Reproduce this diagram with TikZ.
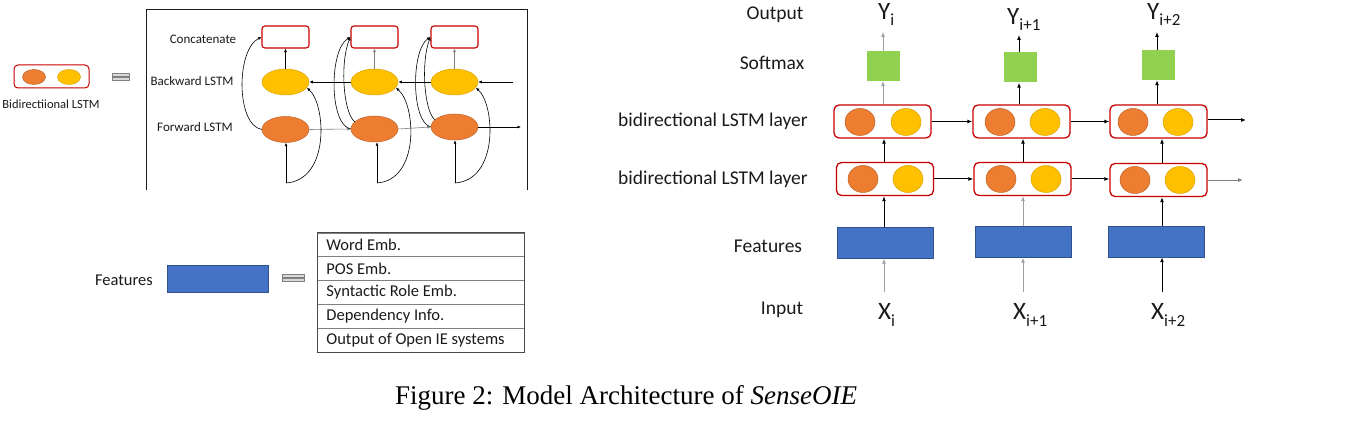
\documentclass[tikz,border=0pt]{standalone}
\usepackage{fontspec}
\setmainfont{Liberation Serif}
\newfontfamily\calib{Carlito}
\newcommand\subfnt{\calib\fontsize{17}{18}\selectfont}
\usetikzlibrary{arrows.meta,shapes.geometric}
\definecolor{orC}{HTML}{ED7D31}
\definecolor{orD}{HTML}{C0622A}
\definecolor{yeC}{HTML}{FFC000}
\definecolor{yeD}{HTML}{D9A300}
\definecolor{grC}{HTML}{92D050}
\definecolor{blC}{HTML}{4472C4}
\definecolor{blD}{HTML}{2F528F}
\definecolor{rdC}{HTML}{C80000}
\definecolor{txC}{HTML}{1A1A1A}
\definecolor{lnG}{HTML}{A0A0A0}
\tikzset{
 lab/.style={font=\calib\fontsize{19.5}{23}\selectfont, text=txC, inner sep=0pt},
 slab/.style={font=\calib\fontsize{13}{16}\selectfont, text=txC, inner sep=0pt},
 varlab/.style={font=\calib\fontsize{25}{28}\selectfont, text=txC, inner sep=0pt, anchor=base west},
 orell/.style={ellipse, fill=orC, draw=orD, line width=0.5pt, inner sep=0pt},
 yeell/.style={ellipse, fill=yeC, draw=yeD, line width=0.5pt, inner sep=0pt},
 bibox/.style={draw=rdC, line width=1.3pt, rounded corners=5pt, minimum width=97pt, minimum height=33pt, inner sep=0pt, fill=white},
 ccbox/.style={draw=rdC, line width=1.1pt, rounded corners=3pt, minimum width=47pt, minimum height=22pt, inner sep=0pt},
 feat/.style={fill=blC, draw=blD, line width=0.5pt, minimum width=96pt, minimum height=31pt, inner sep=0pt},
 soft/.style={fill=grC, minimum width=33pt, minimum height=30pt, inner sep=0pt},
 arr/.style={-{Latex[length=5pt,width=4pt]}, line width=1pt, draw=black},
 garr/.style={-{Latex[length=5pt,width=4pt]}, line width=0.8pt, draw=lnG},
 sarr/.style={-{Latex[length=3.5pt,width=3pt]}, line width=0.6pt, draw=black},
 tabrow/.style={draw=gray, line width=0.6pt, minimum width=207pt, minimum height=23.8pt, inner sep=0pt},
 tabtxt/.style={anchor=west, inner sep=0pt, font=\calib\fontsize{16.5}{19}\selectfont, text=txC},
 eqbar/.style={draw=gray, fill=lnG!40, line width=0.5pt},
}
\begin{document}
\begin{tikzpicture}[x=1pt,y=-1pt]
\useasboundingbox (0,0) rectangle (1350,446);

% ---------------- legend (top-left)
\node[draw=rdC, line width=1pt, rounded corners=4pt, minimum width=75pt, minimum height=23pt, inner sep=0pt] (lbox) at (51.5,76.5) {};
\node[orell, minimum width=23pt, minimum height=15pt] (le1) at (34,77) {};
\node[yeell, minimum width=23pt, minimum height=15pt] (le2) at (69,77) {};
\node[slab, font=\calib\fontsize{12.5}{15}\selectfont] (llab) at (51,104) {Bidirectiional LSTM};
\draw[eqbar] (112,73) rectangle (129,76);
\draw[eqbar] (112,77.5) rectangle (129,80.5);

% ---------------- left panel frame
\draw[line width=0.9pt, draw=txC] (146,190) -- (146,9) -- (527,9) -- (527,190);
\node[slab] (lcat) at (203,39) {Concatenate};
\node[slab] (lbw) at (192,81) {Backward LSTM};
\node[slab] (lfw) at (195,127) {Forward LSTM};

\node[ccbox] (cc1) at (285.5,37) {};
\node[ccbox] (cc2) at (374.5,37) {};
\node[ccbox] (cc3) at (454.5,37) {};
\node[yeell, minimum width=47pt, minimum height=26pt] (eb1) at (285.5,82) {};
\node[yeell, minimum width=47pt, minimum height=26pt] (eb2) at (374.5,82) {};
\node[yeell, minimum width=47pt, minimum height=26pt] (eb3) at (454.5,82) {};
\node[orell, minimum width=47pt, minimum height=26pt] (ef1) at (285.5,129.5) {};
\node[orell, minimum width=47pt, minimum height=26pt] (ef2) at (374.5,129) {};
\node[orell, minimum width=47pt, minimum height=26pt] (ef3) at (454.5,127) {};
\coordinate (i1) at (286,183);
\coordinate (i2) at (377,183);
\coordinate (i3) at (455,183);
\coordinate (bin) at (513,82);
\coordinate (fout) at (521,127);

\draw[sarr] (eb1.north) -- (cc1.south);
\draw[sarr, draw=gray] (eb2.north) -- (cc2.south);
\draw[sarr, draw=gray] (eb3.north) -- (cc3.south);
\draw[sarr, line width=0.9pt] (eb2.west) -- (eb1.east);
\draw[sarr, line width=0.9pt] (eb3.west) -- (eb2.east);
\draw[sarr] (bin) -- (eb3.east);
\draw[sarr, draw=gray] (ef1.east) -- (ef2.west);
\draw[sarr, draw=gray] (ef2.east) -- (ef3.west);
\draw[sarr] (ef3.east) -- (fout);
\draw[sarr] (i1) -- (i1 |- ef1.south);
\draw[sarr] (i2) -- (i2 |- ef2.south);
\draw[sarr] (i3) -- (i3 |- ef3.south);
% inputs to backward LSTM
\draw[sarr] (i1) .. controls (330,180) and (326,105) .. (eb1.-15);
\draw[sarr] (i2) .. controls (420,180) and (416,105) .. (eb2.-15);
\draw[sarr] (i3) .. controls (499,180) and (495,105) .. (eb3.-15);
% forward outputs to concatenation
\draw[sarr] (ef1.west) .. controls (236,125) and (236,50) .. (cc1.west);
\draw[sarr] (ef2.west) .. controls (329,125) and (329,50) .. (cc2.west);
\draw[sarr] (ef2.160) .. controls (343,112) and (340,62) .. (cc2.west);
\draw[sarr] (ef3.west) .. controls (411,122) and (411,50) .. (cc3.west);
\draw[sarr] (ef3.160) .. controls (424,110) and (421,62) .. (cc3.west);

% ---------------- bottom-left features
\node[lab, font=\calib\fontsize{16.5}{20}\selectfont] (lfeat) at (124,280) {Features};
\node[feat, minimum width=101pt, minimum height=27pt] (fb) at (217.5,278.5) {};
\draw[eqbar] (282,274) rectangle (304,277);
\draw[eqbar] (282,278.5) rectangle (304,281.5);
\node[tabrow] (r1) at (421,244.9) {};
\node[tabrow] (r2) at (421,268.7) {};
\node[tabrow] (r3) at (421,292.5) {};
\node[tabrow] (r4) at (421,316.3) {};
\node[tabrow] (r5) at (421,340.1) {};
\node[tabtxt] (t1) at ([xshift=9pt]r1.west) {Word Emb.};
\node[tabtxt] (t2) at ([xshift=9pt]r2.west) {POS Emb.};
\node[tabtxt] (t3) at ([xshift=9pt]r3.west) {Syntactic Role Emb.};
\node[tabtxt] (t4) at ([xshift=9pt]r4.west) {Dependency Info.};
\node[tabtxt] (t5) at ([xshift=9pt]r5.west) {Output of Open IE systems};
\draw[line width=1.1pt, draw=txC!80] (r1.north west) rectangle (r5.south east);

% ---------------- right panel labels
\node[lab] (tout) at (775,15) {Output};
\node[lab] (tsoft) at (772,63) {Softmax};
\node[lab, anchor=east] (tbi1) at (808,121) {bidirectional LSTM layer};
\node[lab, anchor=east] (tbi2) at (808,179) {bidirectional LSTM layer};
\node[lab] (tfeat) at (768,246) {Features};
\node[lab] (tin) at (782,310) {Input};

\node[varlab] (y1) at (878,20) {Y\raisebox{-6pt}{\subfnt i}};
\node[varlab] (y2) at (1007,25) {Y\raisebox{-6pt}{\subfnt i+1}};
\node[varlab] (y3) at (1147,20) {Y\raisebox{-6pt}{\subfnt i+2}};
\node[varlab] (x1) at (878,320) {X\raisebox{-6pt}{\subfnt i}};
\node[varlab] (x2) at (1013,320) {X\raisebox{-6pt}{\subfnt i+1}};
\node[varlab] (x3) at (1151,320) {X\raisebox{-6pt}{\subfnt i+2}};

% softmax
\node[soft] (s1) at (883.5,66) {};
\node[soft] (s2) at (1020,67.5) {};
\node[soft] (s3) at (1158,65) {};
\fill[white, opacity=0.35] (s1.north west) rectangle ([yshift=3pt]s1.north east);
\fill[white, opacity=0.35] ([yshift=-3pt]s1.south west) rectangle (s1.south east);

% upper bidirectional layer
\node[bibox] (ub1) at (882.5,121.5) {};
\node[bibox] (ub2) at (1021.5,121.5) {};
\node[bibox] (ub3) at (1158.5,121.5) {};
\node[orell, minimum width=30pt, minimum height=27pt] (uo1) at (860,122) {};
\node[yeell, minimum width=30pt, minimum height=27pt] (uy1) at (906,122) {};
\node[orell, minimum width=30pt, minimum height=27pt] (uo2) at (1000,122) {};
\node[yeell, minimum width=30pt, minimum height=27pt] (uy2) at (1045,122) {};
\node[orell, minimum width=30pt, minimum height=27pt] (uo3) at (1133,122) {};
\node[yeell, minimum width=30pt, minimum height=27pt] (uy3) at (1178,122) {};

% lower bidirectional layer
\node[bibox] (lb1) at (885,179) {};
\node[bibox] (lb2) at (1022.5,179) {};
\node[bibox] (lb3) at (1158.5,180) {};
\node[orell, minimum width=30pt, minimum height=27pt] (lo1) at (863,179) {};
\node[yeell, minimum width=30pt, minimum height=27pt] (ly1) at (908,179) {};
\node[orell, minimum width=30pt, minimum height=27pt] (lo2) at (1001,179) {};
\node[yeell, minimum width=30pt, minimum height=27pt] (ly2) at (1046,179) {};
\node[orell, minimum width=30pt, minimum height=27pt] (lo3) at (1135,180) {};
\node[yeell, minimum width=30pt, minimum height=27pt] (ly3) at (1180,180) {};

% features
\node[feat] (f1) at (885,243) {};
\node[feat] (f2) at (1023,242) {};
\node[feat] (f3) at (1156,241.5) {};

% coordinates
\coordinate (in1) at (884,292);
\coordinate (in2) at (1023,292);
\coordinate (in3) at (1162,292);
\coordinate (o1) at (883,32);
\coordinate (o2) at (1019,35);
\coordinate (o3) at (1157,32);
\coordinate (ue) at (1246,120);
\coordinate (le) at (1243,180);

% vertical connectors
\draw[garr] (in1) -- (in1 |- f1.south);
\draw[garr] (in2) -- (in2 |- f2.south);
\draw[arr] (in3) -- (in3 |- f3.south);
\draw[arr] (in1 |- f1.north) -- (in1 |- lb1.south);
\draw[garr] (in2 |- f2.north) -- (in2 |- lb2.south);
\draw[arr] (in3 |- f3.north) -- (in3 |- lb3.south);
\draw[arr] (in1 |- lb1.north) -- (in1 |- ub1.south);
\draw[arr] (in2 |- lb2.north) -- (in2 |- ub2.south);
\draw[arr] (in3 |- lb3.north) -- (in3 |- ub3.south);
\draw[garr] (o1 |- ub1.north) -- (o1 |- s1.south);
\draw[arr] (o2 |- ub2.north) -- (o2 |- s2.south);
\draw[arr] (o3 |- ub3.north) -- (o3 |- s3.south);
\draw[garr] (o1 |- s1.north) -- (o1);
\draw[arr] (o2 |- s2.north) -- (o2);
\draw[arr] (o3 |- s3.north) -- (o3);

% horizontal connectors
\draw[arr] (ub1.east) -- (ub2.west);
\draw[arr] (ub2.east) -- (ub2.east -| ub3.west);
\draw[arr] (ub3.east |- ue) -- (ue);
\draw[arr] (lb1.east) -- (lb2.west);
\draw[arr] (lb2.east) -- (lb2.east -| lb3.west);
\draw[garr, draw=gray] (lb3.east |- le) -- (le);

% ---------------- caption
\node[anchor=base west, inner sep=0pt, font=\fontsize{27}{30}\selectfont] (cap) at (395,405) {Figure 2: Model Architecture of \textit{SenseOIE}};
\end{tikzpicture}
\end{document}
